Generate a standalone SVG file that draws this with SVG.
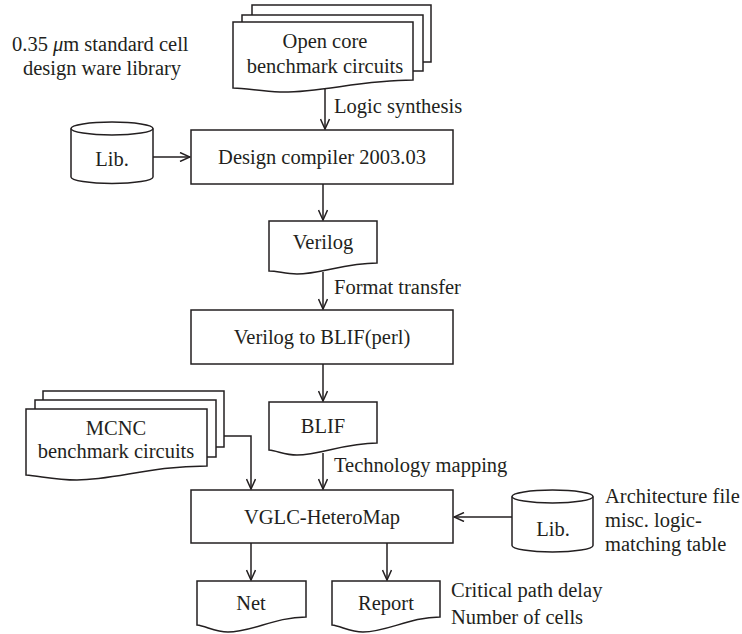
<svg xmlns="http://www.w3.org/2000/svg" width="742" height="634" viewBox="0 0 742 634">
<style>
.s{fill:#fff;stroke:#231f20;stroke-width:1.5}
.c{fill:none;stroke:#231f20;stroke-width:1.5}
text{font-family:'Liberation Serif',serif;font-size:20.5px;fill:#231f20}
.m{text-anchor:middle}
</style>
<defs>
<marker id="a" viewBox="0 0 12 10" refX="11" refY="5" markerWidth="12" markerHeight="10" markerUnits="userSpaceOnUse" orient="auto">
<path d="M1,0.5 L11,5 L1,9.5" fill="none" stroke="#231f20" stroke-width="1.5"/>
</marker>
</defs>
<rect width="742" height="634" fill="#fff"/>

<g id="connectors">
<path class="c" d="M325,88 V129" marker-end="url(#a)"/>
<path class="c" d="M153,157 H190" marker-end="url(#a)"/>
<path class="c" d="M323,184 V220" marker-end="url(#a)"/>
<path class="c" d="M323,272 V309" marker-end="url(#a)"/>
<path class="c" d="M323,364 V401" marker-end="url(#a)"/>
<path class="c" d="M323,453 V489" marker-end="url(#a)"/>
<path class="c" d="M224,436 H251 V489" marker-end="url(#a)"/>
<path class="c" d="M512,517 H454" marker-end="url(#a)"/>
<path class="c" d="M251,543 V580" marker-end="url(#a)"/>
<path class="c" d="M387,543 V580" marker-end="url(#a)"/>
</g>

<g id="opencore">
<rect class="s" x="252" y="5" width="179" height="57"/>
<rect class="s" x="242" y="15" width="181" height="56"/>
<path class="s" d="M233,22 H413 V80 C360,80 320,93 280,92 C260,91 245,88 233,88 Z"/>
<text class="m" x="325" y="48">Open core</text>
<text class="m" x="325" y="73">benchmark circuits</text>
</g>

<g id="libnote">
<text x="12" y="51">0.35 <tspan font-style="italic">μ</tspan>m standard cell</text>
<text class="m" x="102" y="75">design ware library</text>
</g>

<text x="334" y="113">Logic synthesis</text>

<g id="lib1">
<path class="s" d="M71,128.5 V177 A41,6.5 0 0 0 153,177 V128.5"/>
<ellipse class="s" cx="112" cy="128.5" rx="41" ry="6.5"/>
<text class="m" x="112" y="166">Lib.</text>
</g>

<g id="compiler">
<rect class="s" x="191" y="130" width="262" height="54"/>
<text class="m" x="322" y="164">Design compiler 2003.03</text>
</g>

<g id="verilog">
<path class="s" d="M269,221 H377 V263 C345,263 320,274 297,274 C285,274 278,271 269,271 Z"/>
<text class="m" x="323" y="249">Verilog</text>
</g>

<text x="334" y="294">Format transfer</text>

<g id="v2b">
<rect class="s" x="191" y="310" width="262" height="54"/>
<text class="m" x="322" y="344">Verilog to BLIF(perl)</text>
</g>

<g id="blif">
<path class="s" d="M269,402 H377 V443 C345,443 320,455 297,455 C285,455 278,451 269,450 Z"/>
<text class="m" x="323" y="433">BLIF</text>
</g>

<text x="334" y="472">Technology mapping</text>

<g id="mcnc">
<rect class="s" x="43" y="391" width="181" height="56"/>
<rect class="s" x="35" y="400" width="181" height="57"/>
<path class="s" d="M26,409 H207 V466 C150,466 115,480 77,480 C55,480 40,476 26,475 Z"/>
<text class="m" x="116" y="435">MCNC</text>
<text class="m" x="116" y="458">benchmark circuits</text>
</g>

<g id="vglc">
<rect class="s" x="191" y="490" width="262" height="53"/>
<text class="m" x="322" y="524">VGLC-HeteroMap</text>
</g>

<g id="lib2">
<path class="s" d="M512,496.5 V545.5 A40.5,6.5 0 0 0 593,545.5 V496.5"/>
<ellipse class="s" cx="552.5" cy="496.5" rx="40.5" ry="6.5"/>
<text class="m" x="553" y="536">Lib.</text>
</g>

<g id="archnote">
<text x="605" y="503">Architecture file</text>
<text x="605" y="527">misc. logic-</text>
<text x="605" y="551">matching table</text>
</g>

<g id="net">
<path class="s" d="M197,581 H306 V617 C275,617 252,632 228,632 C215,632 206,626 197,625 Z"/>
<text class="m" x="251" y="610">Net</text>
</g>

<g id="report">
<path class="s" d="M332,581 H440 V617 C410,617 387,632 363,632 C350,632 341,626 332,625 Z"/>
<text class="m" x="386" y="610">Report</text>
</g>

<g id="reportnote">
<text x="451" y="597">Critical path delay</text>
<text x="451" y="624">Number of cells</text>
</g>
</svg>
